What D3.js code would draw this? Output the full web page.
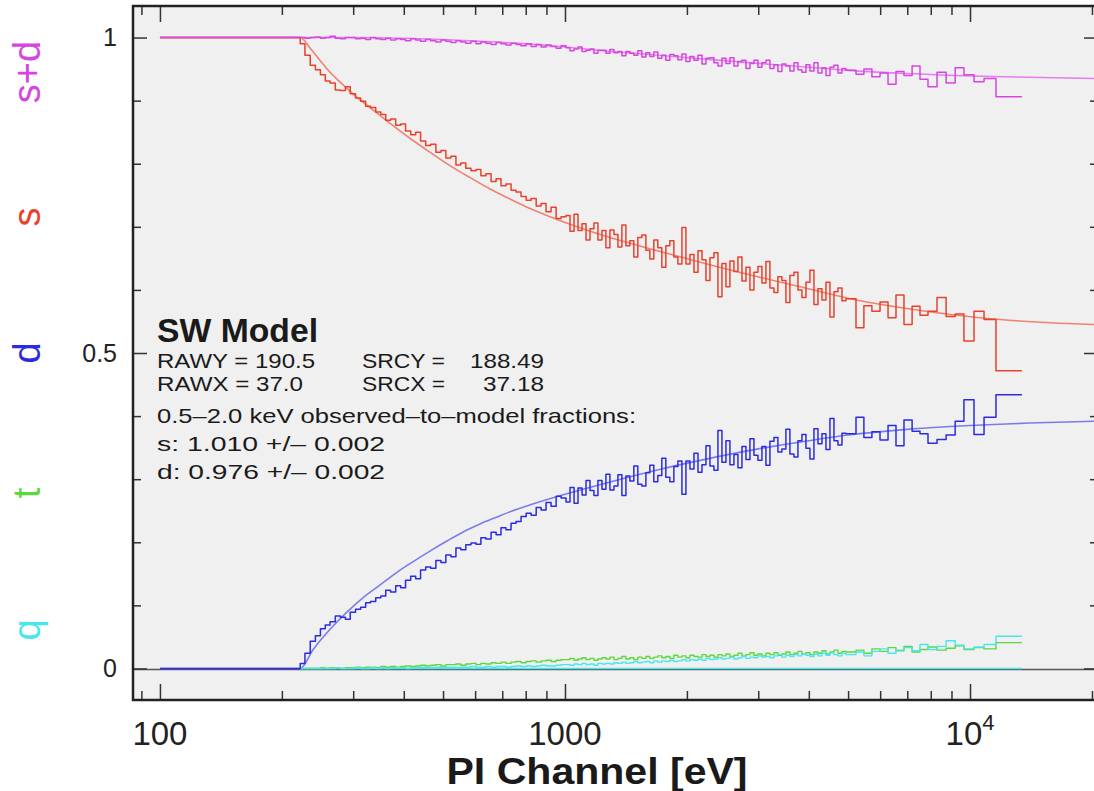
<!DOCTYPE html>
<html><head><meta charset="utf-8">
<script src="https://cdn.jsdelivr.net/npm/d3@7"></script>
<style>
html,body{margin:0;padding:0;background:#fff;}
svg{display:block;font-family:"Liberation Sans",Arial,sans-serif;}
</style></head><body>
<svg id="c" width="1094" height="791"></svg>
<script>
// ---------- DATA ----------
// histogram bin edges (PI channel, eV); n bins => n+1 edges
const binEdges = [100,
222, 228, 235, 242, 249, 256, 263, 271, 279, 287,
295, 304, 313, 322, 331, 341, 351, 361, 371, 382,
393, 404, 416, 428, 440, 453, 466, 480, 494, 508,
523, 538, 553, 569, 586, 603, 620, 638, 657, 676,
695, 715, 736, 757, 779, 802, 825, 849, 873, 898,
924, 951, 978,
1006, 1029, 1053, 1077, 1102, 1127, 1153, 1179, 1206, 1234,
1262, 1291, 1321, 1351, 1382, 1414, 1446, 1479, 1513, 1548,
1584, 1620, 1657, 1695, 1734, 1774, 1815, 1857, 1900, 1944,
1989, 2035, 2082, 2130, 2179, 2229, 2280, 2332, 2386, 2441,
2497, 2554, 2613, 2673, 2735, 2798, 2862, 2928, 2995, 3064,
3134, 3206, 3280, 3355, 3432, 3511, 3592, 3675, 3760, 3846,
3935, 4025, 4118, 4213, 4310, 4409, 4510, 4614, 4720, 4829,
4940, 5230, 5470, 5725, 5995, 6275, 6565, 6870, 7195, 7525,
7875, 8290, 8730, 9190, 9660, 10230, 10830, 11590,
13430];

const sdData = [1.000,
1.000, 0.999, 1.000, 1.001, 0.999, 1.000, 1.002, 0.999, 0.998, 1.000,
1.000, 0.998, 0.999, 0.997, 1.000, 0.998, 0.997, 0.999, 0.996, 0.998,
0.997, 0.995, 0.998, 0.996, 0.994, 0.997, 0.995, 0.993, 0.996, 0.994,
0.992, 0.995, 0.993, 0.991, 0.994, 0.990, 0.993, 0.991, 0.989, 0.992,
0.990, 0.988, 0.991, 0.989, 0.987, 0.990, 0.986, 0.989, 0.985, 0.988,
0.986, 0.983, 0.987,
0.984, 0.979, 0.982, 0.985, 0.978, 0.980, 0.982, 0.975, 0.980, 0.980,
0.975, 0.981, 0.976, 0.978, 0.971, 0.978, 0.975, 0.972, 0.979, 0.969,
0.976, 0.970, 0.977, 0.967, 0.972, 0.964, 0.973, 0.971, 0.965, 0.974,
0.962, 0.970, 0.964, 0.972, 0.958, 0.967, 0.968, 0.960, 0.955, 0.967,
0.959, 0.968, 0.955, 0.962, 0.964, 0.951, 0.959, 0.964, 0.953, 0.960,
0.964, 0.951, 0.957, 0.946, 0.958, 0.955, 0.947, 0.960, 0.949, 0.945,
0.957, 0.947, 0.960, 0.944, 0.952, 0.940, 0.953, 0.956, 0.944, 0.951,
0.948, 0.942, 0.950, 0.938, 0.944, 0.926, 0.946, 0.940, 0.955, 0.934,
0.922, 0.945, 0.928, 0.952, 0.941, 0.930, 0.935, 0.906];

const sData = [1.000,
0.990, 0.972, 0.956, 0.949, 0.941, 0.931, 0.928, 0.917, 0.916, 0.922,
0.911, 0.904, 0.899, 0.891, 0.889, 0.882, 0.878, 0.869, 0.871, 0.861,
0.863, 0.852, 0.846, 0.850, 0.836, 0.829, 0.831, 0.818, 0.821, 0.809,
0.812, 0.798, 0.801, 0.793, 0.789, 0.791, 0.781, 0.784, 0.772, 0.776,
0.765, 0.768, 0.758, 0.755, 0.748, 0.742, 0.745, 0.733, 0.737, 0.724,
0.731, 0.713, 0.716,
0.718, 0.693, 0.720, 0.694, 0.705, 0.679, 0.697, 0.706, 0.679, 0.694,
0.667, 0.695, 0.688, 0.668, 0.703, 0.670, 0.678, 0.652, 0.683, 0.687,
0.663, 0.649, 0.679, 0.667, 0.636, 0.670, 0.678, 0.652, 0.641, 0.699,
0.641, 0.656, 0.628, 0.662, 0.648, 0.615, 0.651, 0.659, 0.589, 0.642,
0.605, 0.646, 0.629, 0.652, 0.614, 0.636, 0.600, 0.628, 0.637, 0.611,
0.645, 0.603, 0.596, 0.621, 0.615, 0.580, 0.623, 0.628, 0.600, 0.588,
0.612, 0.631, 0.577, 0.602, 0.584, 0.612, 0.557, 0.597, 0.603, 0.583,
0.586, 0.540, 0.575, 0.566, 0.581, 0.556, 0.592, 0.545, 0.574, 0.560,
0.566, 0.588, 0.558, 0.562, 0.519, 0.566, 0.553, 0.472];

const dData = [0.000,
0.008, 0.024, 0.043, 0.052, 0.063, 0.069, 0.074, 0.083, 0.081, 0.078,
0.089, 0.094, 0.097, 0.104, 0.106, 0.112, 0.115, 0.124, 0.121, 0.131,
0.128, 0.140, 0.146, 0.142, 0.156, 0.161, 0.159, 0.171, 0.168, 0.180,
0.177, 0.191, 0.188, 0.196, 0.199, 0.197, 0.207, 0.205, 0.216, 0.212,
0.223, 0.220, 0.230, 0.233, 0.241, 0.246, 0.243, 0.255, 0.251, 0.263,
0.257, 0.273, 0.270,
0.264, 0.287, 0.262, 0.286, 0.275, 0.298, 0.282, 0.274, 0.298, 0.284,
0.308, 0.283, 0.289, 0.307, 0.274, 0.305, 0.297, 0.321, 0.292, 0.289,
0.310, 0.322, 0.296, 0.306, 0.333, 0.303, 0.296, 0.320, 0.329, 0.276,
0.329, 0.316, 0.341, 0.311, 0.323, 0.353, 0.321, 0.314, 0.377, 0.327,
0.361, 0.323, 0.339, 0.318, 0.352, 0.331, 0.364, 0.338, 0.330, 0.352,
0.322, 0.360, 0.366, 0.343, 0.348, 0.379, 0.340, 0.335, 0.361, 0.371,
0.349, 0.332, 0.380, 0.356, 0.372, 0.347, 0.396, 0.361, 0.354, 0.373,
0.372, 0.398, 0.366, 0.375, 0.362, 0.385, 0.353, 0.394, 0.376, 0.372,
0.357, 0.363, 0.370, 0.392, 0.426, 0.371, 0.398, 0.434];

const tData = [null,
0.000, 0.000, 0.000, 0.000, 0.001, 0.000, 0.001, 0.001, 0.000, 0.001,
0.001, 0.002, 0.001, 0.002, 0.002, 0.001, 0.003, 0.002, 0.003, 0.002,
0.003, 0.004, 0.003, 0.004, 0.005, 0.004, 0.005, 0.006, 0.004, 0.006,
0.006, 0.007, 0.005, 0.007, 0.008, 0.006, 0.008, 0.007, 0.009, 0.008,
0.010, 0.008, 0.010, 0.011, 0.009, 0.011, 0.012, 0.010, 0.012, 0.013,
0.011, 0.013, 0.014,
0.014, 0.016, 0.013, 0.015, 0.017, 0.014, 0.016, 0.013, 0.015, 0.017,
0.015, 0.018, 0.014, 0.016, 0.019, 0.015, 0.017, 0.014, 0.018, 0.016,
0.019, 0.016, 0.018, 0.020, 0.017, 0.019, 0.016, 0.021, 0.018, 0.020,
0.017, 0.021, 0.019, 0.018, 0.022, 0.019, 0.021, 0.018, 0.022, 0.020,
0.023, 0.019, 0.021, 0.024, 0.020, 0.022, 0.025, 0.021, 0.023, 0.020,
0.024, 0.022, 0.025, 0.021, 0.023, 0.026, 0.022, 0.024, 0.027, 0.023,
0.025, 0.022, 0.026, 0.024, 0.028, 0.023, 0.026, 0.029, 0.024, 0.027,
0.026, 0.029, 0.024, 0.031, 0.027, 0.033, 0.028, 0.035, 0.026, 0.030,
0.034, 0.029, 0.032, 0.036, 0.030, 0.033, 0.031, 0.041];

const qData = [null,
0.000, 0.000, 0.000, 0.000, 0.000, 0.000, 0.000, 0.001, 0.000, 0.000,
0.000, 0.001, 0.000, 0.000, 0.001, 0.000, 0.001, 0.000, 0.001, 0.001,
0.001, 0.000, 0.001, 0.001, 0.002, 0.001, 0.001, 0.002, 0.001, 0.002,
0.002, 0.001, 0.002, 0.002, 0.003, 0.002, 0.002, 0.003, 0.002, 0.003,
0.003, 0.002, 0.003, 0.004, 0.003, 0.004, 0.003, 0.004, 0.005, 0.004,
0.004, 0.005, 0.006,
0.006, 0.005, 0.007, 0.006, 0.008, 0.006, 0.007, 0.005, 0.008, 0.007,
0.008, 0.007, 0.009, 0.008, 0.010, 0.008, 0.009, 0.011, 0.009, 0.010,
0.011, 0.009, 0.012, 0.010, 0.012, 0.011, 0.013, 0.011, 0.012, 0.014,
0.012, 0.014, 0.013, 0.015, 0.013, 0.016, 0.014, 0.015, 0.017, 0.015,
0.016, 0.018, 0.015, 0.017, 0.019, 0.016, 0.018, 0.017, 0.020, 0.018,
0.019, 0.017, 0.020, 0.022, 0.018, 0.021, 0.019, 0.022, 0.020, 0.023,
0.021, 0.019, 0.023, 0.020, 0.024, 0.021, 0.025, 0.022, 0.020, 0.024,
0.022, 0.026, 0.020, 0.027, 0.031, 0.024, 0.029, 0.033, 0.028, 0.038,
0.030, 0.035, 0.044, 0.037, 0.031, 0.034, 0.038, 0.051];

// smooth model curves
const sdModelE = [100, 222, 300, 400, 500, 620, 800, 1000, 1300, 1700, 2200, 3000, 4000, 5000, 7000, 10000, 14000, 20700];
const sdModelV = [1.000, 1.000, 1.000, 0.999, 0.997, 0.994, 0.990, 0.985, 0.978, 0.972, 0.966, 0.959, 0.953, 0.948, 0.943, 0.939, 0.937, 0.935];
const sModelE = [100, 222, 235, 249, 263, 279, 303, 330, 370, 415, 465, 520, 583, 653, 732, 820, 919, 1029, 1221, 1448, 1717, 2157, 3032, 3807, 5058, 6722, 8932, 11870, 15770, 20720];
const sModelV = [1.000, 1.000, 0.983, 0.963, 0.945, 0.929, 0.908, 0.889, 0.864, 0.840, 0.818, 0.797, 0.778, 0.760, 0.744, 0.729, 0.716, 0.704, 0.688, 0.674, 0.661, 0.644, 0.620, 0.605, 0.586, 0.572, 0.561, 0.553, 0.548, 0.545];
const dModelE = [100, 222, 239, 263, 289, 317, 349, 384, 421, 464, 511, 559, 617, 679, 743, 818, 1000, 1300, 1700, 2200, 3000, 4000, 5000, 7000, 10000, 14000, 20700];
const dModelV = [0.000, 0.000, 0.030, 0.062, 0.089, 0.112, 0.132, 0.152, 0.169, 0.186, 0.202, 0.216, 0.229, 0.240, 0.250, 0.259, 0.276, 0.296, 0.315, 0.331, 0.348, 0.361, 0.370, 0.379, 0.385, 0.389, 0.392];
const qModelE = [222, 13430];
const qModelV = [0.000, 0.000];

// ticks & labels
const xMajorTicks = [100, 1000, 10000];
const xMinorTicks = [90, 200, 300, 400, 500, 600, 700, 800, 900, 2000, 3000, 4000, 5000, 6000, 7000, 8000, 9000, 20000];
const yMajorTicks = [0, 0.5, 1];
const yMinorTicks = [0.1, 0.2, 0.3, 0.4, 0.6, 0.7, 0.8, 0.9];
const yTickLabels = ["0", "0.5", "1"];
const seriesNames = ["s+d", "s", "d", "t", "q"];
const xTitle = "PI Channel [eV]";
const boxTitle = "SW Model";

// ---------- DRAW ----------
const col = {
  sd: "#d545e0", sdM: "#e77cf0",
  s: "#e8412c", sM: "#ef8270",
  d: "#2b2be4", dM: "#7a7cee",
  t: "#5cd83c", q: "#48e6ee"
};
const svg = d3.select("#c");
const L = 133, R = 1098, T = 6, B = 700;
const x = d3.scaleLog().domain([85.8, 20700]).range([L, R]);
const y = d3.scaleLinear().domain([-0.05, 1.05]).range([B, T]);

svg.append("rect").attr("x", L).attr("y", T).attr("width", R - L).attr("height", B - T).attr("fill", "#f0f0f0");
svg.append("defs").append("clipPath").attr("id", "clip")
  .append("rect").attr("x", L).attr("y", T).attr("width", R - L).attr("height", B - T);
const plot = svg.append("g").attr("clip-path", "url(#clip)");

// zero line
plot.append("line").attr("x1", L).attr("x2", R).attr("y1", y(0) + 1).attr("y2", y(0) + 1)
  .attr("stroke", "#555").attr("stroke-width", 1.4);

const stepLine = d3.line().defined(d => d[1] != null)
  .x(d => x(d[0])).y(d => y(d[1])).curve(d3.curveStepAfter);
const modelLine = d3.line().x(d => x(d[0])).y(d => y(d[1])).curve(d3.curveMonotoneX);

function hist(vals) {
  const n = Math.min(vals.length, binEdges.length - 1);
  const pts = [];
  for (let i = 0; i < n; i++) pts.push([binEdges[i], vals[i]]);
  pts.push([binEdges[n], vals[n - 1]]);
  return pts;
}
function model(E, V) { return E.map((e, i) => [e, V[i]]); }

function path(pts, gen, color, w) {
  plot.append("path").attr("d", gen(pts)).attr("fill", "none")
    .attr("stroke", color).attr("stroke-width", w).attr("stroke-linejoin", "round");
}

path(model(qModelE, qModelV), modelLine, col.q, 1.4);
path(model(sdModelE, sdModelV), modelLine, col.sdM, 1.6);
path(model(sModelE, sModelV), modelLine, col.sM, 1.6);
path(model(dModelE, dModelV), modelLine, col.dM, 1.6);
path(hist(tData), stepLine, col.t, 1.4);
path(hist(qData), stepLine, col.q, 1.4);
path(hist(dData), stepLine, col.d, 1.5);
path(hist(sData), stepLine, col.s, 1.5);
path(hist(sdData), stepLine, col.sd, 1.5);

// axes (ticks pointing inward)
function styleAxis(g) {
  g.select(".domain").remove();
  g.selectAll(".tick line").attr("stroke", "#333").attr("stroke-width", 1.5);
  g.selectAll(".tick text").remove();
}
const axes = [
  [d3.axisBottom(x).tickValues(xMajorTicks).tickSize(-16), `translate(0,${B})`],
  [d3.axisBottom(x).tickValues(xMinorTicks).tickSize(-9), `translate(0,${B})`],
  [d3.axisTop(x).tickValues(xMajorTicks).tickSize(-16), `translate(0,${T})`],
  [d3.axisTop(x).tickValues(xMinorTicks).tickSize(-9), `translate(0,${T})`],
  [d3.axisLeft(y).tickValues(yMajorTicks).tickSize(-14), `translate(${L},0)`],
  [d3.axisLeft(y).tickValues(yMinorTicks).tickSize(-8), `translate(${L},0)`],
  [d3.axisRight(y).tickValues(yMajorTicks).tickSize(-14), `translate(${R},0)`],
  [d3.axisRight(y).tickValues(yMinorTicks).tickSize(-8), `translate(${R},0)`]
];
axes.forEach(([ax, tr]) => svg.append("g").attr("transform", tr).call(ax.tickFormat("")).call(styleAxis));

// frame
svg.append("rect").attr("x", L).attr("y", T).attr("width", R - L).attr("height", B - T)
  .attr("fill", "none").attr("stroke", "#222").attr("stroke-width", 2.5);

// y tick labels
yMajorTicks.forEach((v, i) => {
  svg.append("text").attr("x", 117).attr("y", y(v)).attr("dy", "0.35em")
    .attr("text-anchor", "end").attr("font-size", 25).attr("fill", "#222").text(yTickLabels[i]);
});
// x tick labels
xMajorTicks.forEach(v => {
  const t = svg.append("text").attr("x", x(v)).attr("y", 745)
    .attr("text-anchor", "middle").attr("font-size", 33).attr("fill", "#222");
  if (v === 10000) {
    t.append("tspan").text("10");
    t.append("tspan").attr("dy", -15).attr("font-size", 22).text("4");
  } else {
    t.text(String(v));
  }
});
// x title
svg.append("text").attr("x", 597).attr("y", 784).attr("text-anchor", "middle")
  .attr("font-size", 36).attr("font-weight", "bold").attr("fill", "#1a1a1a")
  .attr("textLength", 301).attr("lengthAdjust", "spacingAndGlyphs").text(xTitle);

// left series labels (rotated)
const labelColors = [col.sd, col.s, col.d, col.t, col.q];
const labelY = [72, 217, 353, 493, 630];
seriesNames.forEach((nm, i) => {
  svg.append("text").attr("transform", `translate(40,${labelY[i]}) rotate(-90)`)
    .attr("text-anchor", "middle").attr("font-size", 38).attr("fill", labelColors[i]).text(nm);
});

// info box
svg.append("text").attr("x", 157).attr("y", 342).attr("font-size", 34).attr("font-weight", "bold")
  .attr("fill", "#1a1a1a").attr("textLength", 161).attr("lengthAdjust", "spacingAndGlyphs").text(boxTitle);
const info = [
  ["RAWY = 190.5", 157, 368, 158, "start"],
  ["SRCY =", 362, 368, 83, "start"],
  ["188.49", 544, 368, 74, "end"],
  ["RAWX = 37.0", 157, 391, 146, "start"],
  ["SRCX =", 362, 391, 83, "start"],
  ["37.18", 544, 391, 61, "end"],
  ["0.5–2.0 keV observed–to–model fractions:", 157, 423, 479, "start"],
  ["s: 1.010 +/– 0.002", 157, 451, 228, "start"],
  ["d: 0.976 +/– 0.002", 157, 479, 228, "start"]
];
info.forEach(([txt, tx, ty, len, anchor]) => {
  svg.append("text").attr("x", tx).attr("y", ty).attr("font-size", 21).attr("fill", "#1a1a1a")
    .attr("text-anchor", anchor).attr("textLength", len).attr("lengthAdjust", "spacingAndGlyphs").text(txt);
});
</script>
</body></html>
